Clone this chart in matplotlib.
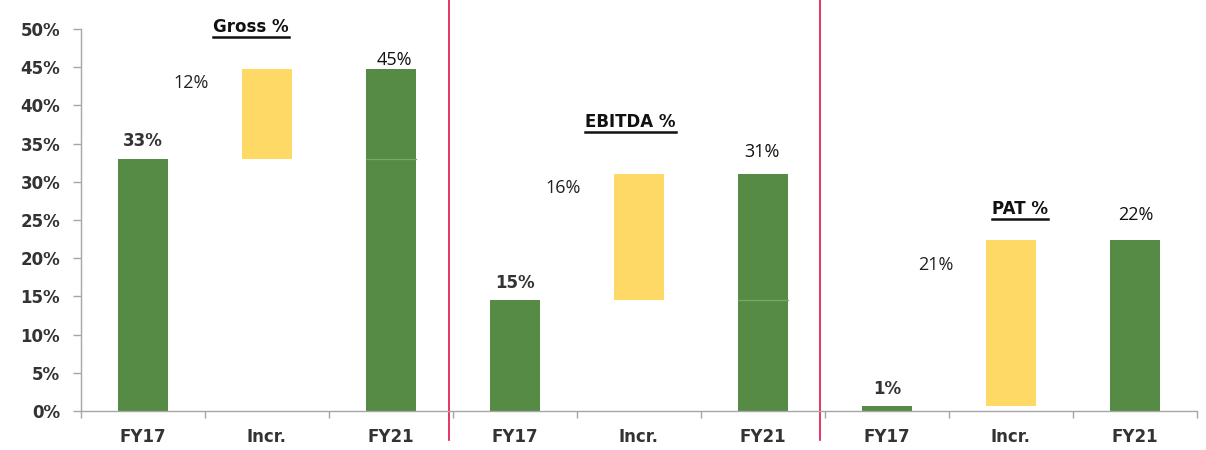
import matplotlib
matplotlib.use("Agg")
import matplotlib.pyplot as plt
import numpy as np

categories = ["FY17", "Incr.", "FY21"] * 3
groups = ["Gross %", "EBITDA %", "PAT %"]
start_vals = [33.0, 14.5, 0.6]
end_vals = [44.8, 31.0, 22.4]
start_labels = ["33%", "15%", "1%"]
incr_labels = ["12%", "16%", "21%"]
end_labels = ["45%", "31%", "22%"]

GREEN = "#558B45"
YELLOW = "#FFD966"
EDGE = "#7AA66A"
RED = "#E0134A"
TXT = "#333333"

fig = plt.figure(figsize=(12.06, 4.5), dpi=100)
ax = fig.add_axes([81/1206, 39/450, (1197-81)/1206, 382/450])
ax.set_xlim(-0.5, 8.5)
ax.set_ylim(0, 50)

x = np.arange(len(categories))
w = 0.4
title_pos = [(0.87, 50.3), (3.93, 37.8), (7.07, 26.4)]
incr_dy = [-1.9, -1.8, -3.3]
end_pos = [(0.03, -0.1, "bottom"), (-0.01, 2.9, "center"), (0.01, 3.25, "center")]
for g in range(3):
    s, e = start_vals[g], end_vals[g]
    x0 = 3 * g
    ax.bar(x0, s, width=w, color=GREEN)
    ax.bar(x0 + 1, e - s, bottom=s, width=w, color=YELLOW)
    ax.bar(x0 + 2, s, width=w, color=GREEN)
    ax.bar(x0 + 2, e - s, bottom=s, width=w, color=GREEN)
    if g < 2:
        ax.plot([x0 + 2 - w / 2, x0 + 2 + w / 2], [s, s], color=EDGE, linewidth=0.9)
    ax.text(x0, s + 2.3, start_labels[g], ha="center", va="center",
            fontsize=12, fontweight="bold", color=TXT, family="DejaVu Sans")
    ax.text(x0 + 1 - 0.61, e + incr_dy[g], incr_labels[g], ha="center", va="center",
            fontsize=13, color="#222222", family="Open Sans")
    dx, dy, va = end_pos[g]
    ax.text(x0 + 2 + dx, e + dy, end_labels[g], ha="center",
            va=va, fontsize=13, color="#111111", family="Open Sans")
    tx, ty = title_pos[g]
    ax.text(tx, ty, groups[g], ha="center", va="center", fontsize=12,
            fontweight="bold", color="#111111", family="DejaVu Sans")

for xs in [2.47, 5.46]:
    ax.axvline(xs, ymin=-0.076, ymax=1.08, color=RED, linewidth=1.2, clip_on=False)

ax.set_yticks(np.arange(0, 51, 5))
ax.set_yticklabels([f"{v}%" for v in range(0, 51, 5)], fontsize=12,
                   fontweight="bold", color=TXT, family="DejaVu Sans")
ax.set_xticks(x)
ax.set_xticklabels(categories, fontsize=12, fontweight="bold", color=TXT,
                   family="DejaVu Sans")
ax.set_xticks(np.arange(-0.5, 9, 1), minor=True)
ax.tick_params(axis="x", which="major", length=0, pad=12)
ax.tick_params(axis="x", which="minor", length=5, color="#A6A6A6", width=1)
ax.tick_params(axis="y", length=6, color="#A6A6A6", width=1, pad=9)
for sp in ["top", "right"]:
    ax.spines[sp].set_visible(False)
for sp in ["left", "bottom"]:
    ax.spines[sp].set_color("#A6A6A6")
    ax.spines[sp].set_linewidth(1)

# underline titles (after limits are fixed)
fig.canvas.draw()
r = fig.canvas.get_renderer()
W, H = fig.canvas.get_width_height()
for t in ax.texts:
    if t.get_text() in groups:
        bb = t.get_window_extent(renderer=r)
        y = bb.y0 - 1
        fig.add_artist(plt.Line2D([bb.x0 / W, bb.x1 / W], [y / H, y / H],
                                  color="#111111", linewidth=1.8, transform=fig.transFigure))

fig.savefig("out.png", dpi=100)
